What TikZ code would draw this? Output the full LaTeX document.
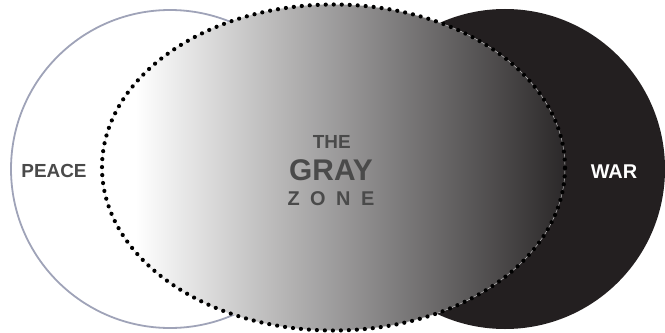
\documentclass[tikz,border=0pt]{standalone}
\usepackage{fontspec}
\setmainfont{Liberation Sans}
\definecolor{peaceline}{HTML}{9FA3B8}
\definecolor{warfill}{HTML}{231F20}
\definecolor{zonedark}{HTML}{2B2829}
\definecolor{textgray}{HTML}{4A4A4A}
\pgfdeclarehorizontalshading{grayzone}{100bp}{color(0bp)=(white); color(28.6bp)=(white); color(75bp)=(zonedark); color(100bp)=(zonedark)}

\begin{document}
\begin{tikzpicture}[x=1bp, y=1bp,
  lbl/.style={inner sep=0pt, anchor=base, text=textgray, font=\fontsize{19}{19}\selectfont\bfseries}]
  \useasboundingbox (0,0) rectangle (665,332);
  \coordinate (cp) at (170,163);
  \coordinate (cw) at (505,163);
  \coordinate (cz) at (333.5,164.5);

  \draw[line width=1.8bp, draw=peaceline, fill=white] (cp) circle (159);
  \fill[warfill] (cw) circle (160);
  \shade[shading=grayzone] (cz) ellipse (231.5 and 163);
  \draw[line width=0.4bp, white!85!black] (cz) ellipse (231.5 and 163);
  \draw[line width=4.2bp, line cap=round, dash pattern=on 0bp off 8bp] (cz) ellipse (231.5 and 163);

  \node[lbl] (peace) at (54,154.7) {PEACE};
  \node[lbl, text=white, font=\fontsize{20}{20}\selectfont\bfseries] (war) at (614,153.7) {WAR};
  \node[lbl] (the) at (331.7,184) {THE};
  \node[lbl, font=\fontsize{30}{30}\selectfont\bfseries] (gray) at (331,152) {GRAY};
  \node[lbl, font=\fontsize{20}{20}\selectfont\bfseries] (zone) at (331,127) {Z\kern10.5bp O\kern10.5bp N\kern10.5bp E};
\end{tikzpicture}
\end{document}
